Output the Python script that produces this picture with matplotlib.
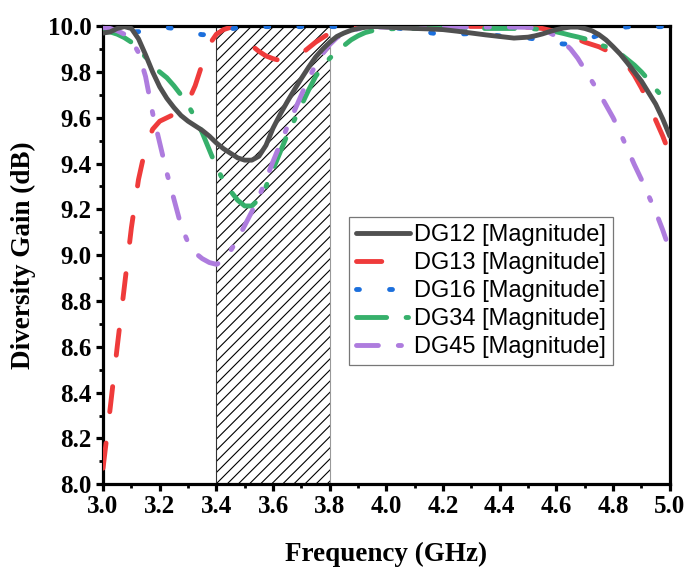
import matplotlib
matplotlib.use("Agg")
import matplotlib.pyplot as plt
from matplotlib.ticker import MultipleLocator, FormatStrFormatter

freq = [3.000, 3.025, 3.050, 3.075, 3.100, 3.125, 3.150, 3.175, 3.200, 3.225,
        3.250, 3.275, 3.300, 3.325, 3.350, 3.375, 3.400, 3.425, 3.450, 3.475,
        3.500, 3.525, 3.550, 3.575, 3.600, 3.625, 3.650, 3.675, 3.700, 3.725,
        3.750, 3.775, 3.800, 3.825, 3.850, 3.875, 3.900, 3.925, 3.950, 3.975,
        4.000, 4.050, 4.100, 4.150, 4.200, 4.250, 4.300, 4.350, 4.400, 4.450,
        4.500, 4.525, 4.550, 4.575, 4.600, 4.625, 4.650, 4.675, 4.700, 4.725,
        4.750, 4.775, 4.800, 4.825, 4.850, 4.875, 4.900, 4.925, 4.950, 4.975, 5.000]

dg12 = [9.970, 9.975, 9.990, 9.998, 9.990, 9.945, 9.875, 9.800, 9.735, 9.685,
        9.645, 9.610, 9.585, 9.565, 9.545, 9.520, 9.490, 9.465, 9.445, 9.425,
        9.415, 9.415, 9.432, 9.480, 9.555, 9.615, 9.670, 9.722, 9.772, 9.820,
        9.865, 9.900, 9.930, 9.955, 9.970, 9.982, 9.990, 9.995, 9.998, 9.998,
        9.996, 9.993, 9.990, 9.988, 9.985, 9.978, 9.970, 9.962, 9.955, 9.948,
        9.952, 9.958, 9.966, 9.976, 9.985, 9.992, 9.996, 9.996, 9.990, 9.980,
        9.963, 9.940, 9.910, 9.878, 9.840, 9.800, 9.760, 9.710, 9.660, 9.595, 9.520]

dg13 = [8.070, 8.330, 8.600, 8.860, 9.120, 9.330, 9.470, 9.550, 9.585, 9.600,
        9.615, 9.635, 9.670, 9.740, 9.835, 9.920, 9.965, 9.985, 9.995, 9.990,
        9.955, 9.915, 9.890, 9.870, 9.858, 9.850, 9.850, 9.860, 9.880, 9.905,
        9.930, 9.950, 9.970, 9.982, 9.990, 9.995, 9.998, 9.999, 9.999, 9.999,
        9.999, 9.999, 9.999, 9.999, 9.999, 9.999, 9.999, 9.999, 9.998, 9.997,
        9.995, 9.993, 9.990, 9.983, 9.975, 9.965, 9.955, 9.943, 9.930, 9.920,
        9.910, 9.895, 9.875, 9.855, 9.830, 9.785, 9.730, 9.665, 9.590, 9.520, 9.440]

dg16 = [9.995, 9.990, 9.985, 9.980, 9.975, 9.976, 9.985, 9.992, 9.995, 9.994,
        9.990, 9.983, 9.975, 9.968, 9.963, 9.963, 9.972, 9.980, 9.988, 9.993,
        9.996, 9.998, 9.998, 9.998, 9.998, 9.998, 9.998, 9.998, 9.998, 9.998,
        9.998, 9.998, 9.998, 9.998, 9.998, 9.998, 9.998, 9.998, 9.998, 9.998,
        9.998, 9.990, 9.982, 9.972, 9.963, 9.965, 9.968, 9.963, 9.958, 9.953,
        9.948, 9.944, 9.940, 9.933, 9.926, 9.922, 9.924, 9.930, 9.940, 9.950,
        9.962, 9.975, 9.986, 9.993, 9.997, 9.998, 9.998, 9.998, 9.998, 9.998, 9.998]

dg34 = [9.975, 9.975, 9.965, 9.950, 9.930, 9.900, 9.865, 9.830, 9.800, 9.775,
        9.740, 9.700, 9.655, 9.600, 9.535, 9.460, 9.385, 9.325, 9.280, 9.240,
        9.215, 9.215, 9.245, 9.300, 9.375, 9.450, 9.525, 9.590, 9.655, 9.720,
        9.780, 9.825, 9.860, 9.890, 9.915, 9.940, 9.958, 9.972, 9.980, 9.985,
        9.988, 9.990, 9.990, 9.990, 9.990, 9.990, 9.990, 9.990, 9.990, 9.990,
        9.990, 9.988, 9.985, 9.980, 9.975, 9.968, 9.960, 9.953, 9.945, 9.935,
        9.920, 9.910, 9.898, 9.880, 9.855, 9.830, 9.800, 9.765, 9.725, 9.690, 9.660]

dg45 = [9.995, 9.990, 9.980, 9.965, 9.940, 9.885, 9.780, 9.620, 9.490, 9.360,
        9.245, 9.130, 9.055, 9.010, 8.985, 8.968, 8.960, 8.975, 9.020, 9.070,
        9.130, 9.190, 9.255, 9.330, 9.410, 9.485, 9.560, 9.630, 9.700, 9.770,
        9.830, 9.880, 9.920, 9.950, 9.968, 9.980, 9.988, 9.993, 9.995, 9.996,
        9.996, 9.996, 9.996, 9.996, 9.996, 9.996, 9.996, 9.996, 9.996, 9.996,
        9.995, 9.992, 9.985, 9.972, 9.955, 9.930, 9.900, 9.860, 9.810, 9.760,
        9.710, 9.655, 9.600, 9.535, 9.465, 9.395, 9.330, 9.260, 9.190, 9.110, 9.020]

labels = ["DG12 [Magnitude]", "DG13 [Magnitude]", "DG16 [Magnitude]",
          "DG34 [Magnitude]", "DG45 [Magnitude]"]
colors = ["#505050", "#EF3B3B", "#1C6FDC", "#36B06B", "#AE7CDE"]
styles = ["-", (0, (5.2, 6.5)), (0, (0.6, 6.2)), (0, (6.2, 4.0, 0.5, 4.0)),
          (0, (4.5, 4.1, 0.65, 4.1))]

plt.rcParams['hatch.linewidth'] = 0.8
fig = plt.figure(figsize=(6.87, 5.69), dpi=100)
ax = fig.add_axes([0.150, 0.149, 0.825, 0.805])

ax.axvspan(3.4, 3.8, facecolor="none", edgecolor="black", hatch="///", lw=0, zorder=1)
ax.axvline(3.4, color="#333333", lw=0.8, zorder=1)
ax.axvline(3.8, color="#999999", lw=0.8, zorder=1)

series = [dg12, dg13, dg16, dg34, dg45]
handles = {}
for i in [1, 2, 3, 4, 0]:
    ln, = ax.plot(freq, series[i], color=colors[i], lw=3.5, linestyle=styles[i],
                  dash_capstyle="round", solid_capstyle="round", label=labels[i],
                  zorder=3 + (i == 0))
    handles[i] = ln

ax.set_xlim(3.0, 5.0)
ax.set_ylim(8.0, 10.0)
ax.xaxis.set_major_locator(MultipleLocator(0.2))
ax.xaxis.set_minor_locator(MultipleLocator(0.1))
ax.yaxis.set_major_locator(MultipleLocator(0.2))
ax.yaxis.set_minor_locator(MultipleLocator(0.1))
ax.xaxis.set_major_formatter(FormatStrFormatter("%.1f"))
ax.yaxis.set_major_formatter(FormatStrFormatter("%.1f"))

for s in ax.spines.values():
    s.set_linewidth(2.3)
ax.tick_params(which="major", direction="out", length=5, width=2.3, top=False, right=False, pad=3)
ax.tick_params(which="minor", direction="out", length=3, width=2.0, top=False, right=False)
for lab in ax.get_xticklabels() + ax.get_yticklabels():
    lab.set_fontfamily("Liberation Serif")
    lab.set_fontweight("bold")
    lab.set_fontsize(18)

ax.set_xlabel("Frequency (GHz)", fontfamily="Liberation Serif", fontweight="bold",
              fontsize=19.5, labelpad=17)
ax.set_ylabel("Diversity Gain (dB)", fontfamily="Liberation Serif", fontweight="bold",
              fontsize=19.5, labelpad=9)

leg = ax.legend([handles[i] for i in range(5)], labels, loc="upper left",
                bbox_to_anchor=(0.434, 0.583), borderaxespad=0,
                prop={"family": "Liberation Sans", "size": 17},
                handlelength=2.3, handletextpad=0.15, labelspacing=0.25,
                borderpad=0.3, fancybox=False, framealpha=1, edgecolor="#777777")
leg.get_frame().set_linewidth(0.9)
leg.set_zorder(5)

fig.savefig("out.png", dpi=100)
